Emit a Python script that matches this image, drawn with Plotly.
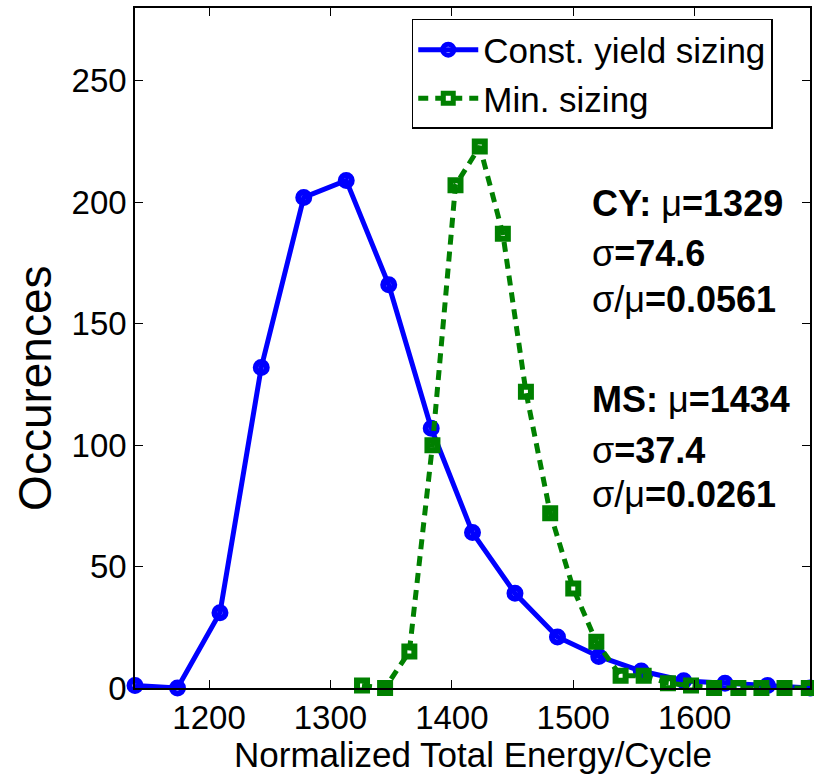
import plotly.graph_objects as go

# Histogram bin centres and counts for the two sizing strategies
cy_energy = [1139, 1174, 1209, 1243, 1278, 1313, 1348, 1383, 1417,
             1452, 1487, 1521, 1556, 1591, 1625, 1660, 1695]
cy_counts = [1, 0, 31, 132, 202, 209, 166, 107, 64, 39, 21, 13, 7, 3, 2, 1, 0]

ms_energy = [1326, 1345, 1365, 1384, 1403, 1423, 1442, 1461, 1481, 1500,
             1519, 1539, 1558, 1578, 1597, 1616, 1636, 1655, 1674, 1694]
ms_counts = [1, 0, 15, 100, 207, 223, 187, 122, 72, 41,
             19, 5, 5, 2, 1, 0, 0, 0, 0, 0]

x_ticks = [1200, 1300, 1400, 1500, 1600]
y_ticks = [0, 50, 100, 150, 200, 250]

stats_lines = [
    ("<b>CY:</b> μ<b>=1329</b>", 199.7),
    ("σ<b>=74.6</b>", 179.1),
    ("σ/μ<b>=0.0561</b>", 159.8),
    ("<b>MS:</b> μ<b>=1434</b>", 118.6),
    ("σ<b>=37.4</b>", 98.0),
    ("σ/μ<b>=0.0261</b>", 79.5),
]

FONT = "Liberation Sans, Arial, sans-serif"

fig = go.Figure()
fig.add_trace(go.Scatter(
    x=cy_energy, y=cy_counts, mode="lines+markers",
    name="Const. yield sizing",
    line=dict(color="#0000ff", width=5),
    marker=dict(symbol="circle-open", size=11, color="#0000ff",
                line=dict(width=6, color="#0000ff")),
    cliponaxis=False,
))
fig.add_trace(go.Scatter(
    x=ms_energy, y=ms_counts, mode="lines+markers",
    name="Min. sizing",
    line=dict(color="#008000", width=5, dash="10px,7px"),
    marker=dict(symbol="square-open", size=10, color="#008000",
                line=dict(width=6, color="#008000")),
    cliponaxis=False,
))

for txt, yv in stats_lines:
    fig.add_annotation(x=1514, y=yv, xref="x", yref="y", text=txt,
                       showarrow=False, xanchor="left", yanchor="middle",
                       font=dict(family=FONT, size=36, color="black"))

# Axis titles drawn as annotations so they can be placed freely
fig.add_annotation(x=-0.148, y=0.44, xref="paper", yref="paper",
                   text="Occurences", textangle=-90, showarrow=False,
                   xanchor="center", yanchor="middle",
                   font=dict(family=FONT, size=46, color="black"))
fig.add_annotation(x=0.5, y=-0.13, xref="paper", yref="paper",
                   text="Normalized Total Energy/Cycle", showarrow=False,
                   xanchor="center", yanchor="bottom",
                   font=dict(family=FONT, size=35, color="black"))

axis_common = dict(showline=True, linecolor="black", linewidth=1.5,
                   mirror="ticks", ticks="inside", ticklen=8,
                   tickcolor="black", tickwidth=1, showgrid=False,
                   zeroline=False,
                   tickfont=dict(family=FONT, size=33, color="black"))

fig.update_layout(
    width=814, height=775,
    margin=dict(l=135, r=2, t=8, b=87),
    paper_bgcolor="white", plot_bgcolor="white",
    showlegend=True,
    legend=dict(x=0.41, y=0.984, xanchor="left", yanchor="top",
                bgcolor="white", bordercolor="black", borderwidth=1.5,
                itemwidth=60, tracegroupgap=0,
                font=dict(family=FONT, size=35, color="black")),
    xaxis=dict(range=[1139, 1695], tickvals=x_ticks, **axis_common),
    yaxis=dict(range=[0, 280], tickvals=y_ticks, **axis_common),
)

fig.write_html("out.html")
